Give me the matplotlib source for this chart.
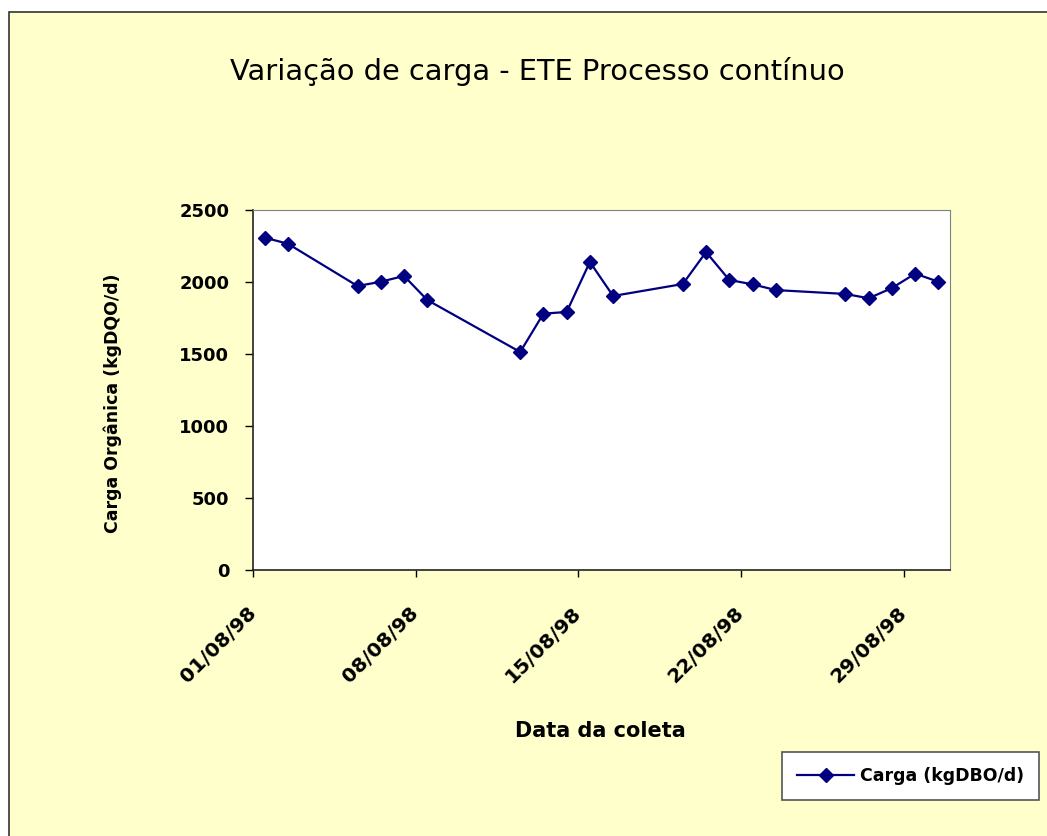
import datetime as dt
import matplotlib
matplotlib.use('Agg')
import matplotlib.pyplot as plt
import matplotlib.dates as mdates
from matplotlib.patches import Rectangle

# carga organica diaria - agosto/98
dias = [1, 2, 5, 6, 7, 8, 12, 13, 14, 15, 16, 19, 20, 21, 22, 23, 26, 27, 28, 29, 30]
carga = [2308, 2266, 1972, 2002, 2042, 1875, 1514, 1780, 1792, 2139, 1903,
         1986, 2208, 2014, 1984, 1944, 1917, 1887, 1958, 2058, 2002]
tick_dias = [1, 8, 15, 22, 29]
y_ticks = [0, 500, 1000, 1500, 2000, 2500]

datas = [dt.date(1998, 8, d) for d in dias]
# excel desenha cada ponto no meio do dia
x = mdates.date2num(datas) + 0.5

W, H = 1047, 836
fig = plt.figure(figsize=(W / 100, H / 100), dpi=100, facecolor='white')

# fundo amarelo com borda
fig.patches.append(Rectangle((9 / W, -0.05), 1.1, 1 - 12 / H + 0.05, transform=fig.transFigure,
                             facecolor='#FFFFCC', edgecolor='#333333', lw=1.2, zorder=-10))

ax = fig.add_axes([253 / W, 1 - 570 / H, 697 / W, 360 / H])
ax.set_facecolor('white')
ax.plot(x, carga, color='#000080', lw=1.6, marker='D', ms=7.5, label='Carga (kgDBO/d)')

ax.set_xlim(mdates.date2num(dt.date(1998, 8, 1)), mdates.date2num(dt.date(1998, 8, 31)))
ax.set_ylim(0, 2500)
ax.set_yticks(y_ticks)
ax.set_xticks(mdates.date2num([dt.date(1998, 8, d) for d in tick_dias]))
ax.xaxis.set_major_formatter(mdates.DateFormatter('%d/%m/%y'))

for s in ['top', 'right']:
    ax.spines[s].set_color('#808080')
for s in ['left', 'bottom']:
    ax.spines[s].set_color('#222222')
    ax.spines[s].set_linewidth(1.2)

ax.tick_params(axis='y', direction='out', length=6, width=1, pad=11, labelsize=13)
ax.tick_params(axis='x', direction='out', length=5, width=1, pad=24, labelsize=14.5)
for lab in ax.get_yticklabels():
    lab.set_fontweight('bold')
for lab in ax.get_xticklabels():
    lab.set_fontweight('bold')
    lab.set_rotation(45)
    lab.set_rotation_mode('anchor')
    lab.set_ha('right')
    lab.set_va('center')

fig.text(537 / W, 1 - 72 / H, 'Variação de carga - ETE Processo contínuo',
         ha='center', va='center', fontsize=20.8)
fig.text(600 / W, 1 - 731 / H, 'Data da coleta', ha='center', va='center',
         fontsize=15, fontweight='bold')
fig.text(113 / W, 1 - 403 / H, 'Carga Orgânica (kgDQO/d)', ha='center', va='center',
         rotation=90, fontsize=12.5, fontweight='bold')

leg = fig.legend(loc='center', bbox_to_anchor=((785 + 1036) / 2 / W, 1 - 776 / H),
                 fancybox=False, edgecolor='#555555', framealpha=1, handlelength=3.3,
                 prop={'weight': 'bold', 'size': 12.5}, borderpad=0.85, handletextpad=0.3)
leg.get_frame().set_linewidth(1.2)

fig.savefig('out.png', dpi=100, facecolor=fig.get_facecolor())
